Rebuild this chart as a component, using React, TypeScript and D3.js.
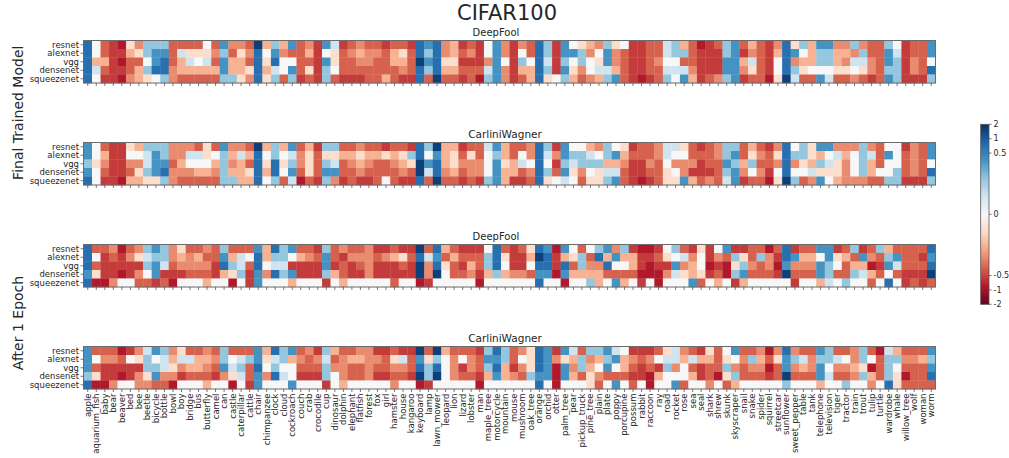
import React from "react";
import * as d3 from "d3";

const classes = [
  "apple","aquarium_fish","baby","bear","beaver","bed","bee","beetle","bicycle","bottle",
  "bowl","boy","bridge","bus","butterfly","camel","can","castle","caterpillar","cattle",
  "chair","chimpanzee","clock","cloud","cockroach","couch","crab","crocodile","cup","dinosaur",
  "dolphin","elephant","flatfish","forest","fox","girl","hamster","house","kangaroo","keyboard",
  "lamp","lawn_mower","leopard","lion","lizard","lobster","man","maple_tree","motorcycle","mountain",
  "mouse","mushroom","oak_tree","orange","orchid","otter","palm_tree","pear","pickup_truck","pine_tree",
  "plain","plate","poppy","porcupine","possum","rabbit","raccoon","ray","road","rocket",
  "rose","sea","seal","shark","shrew","skunk","skyscraper","snail","snake","spider",
  "squirrel","streetcar","sunflower","sweet_pepper","table","tank","telephone","television","tiger","tractor",
  "train","trout","tulip","turtle","wardrobe","whale","willow_tree","wolf","woman","worm",
];
const models = ["resnet", "alexnet", "vgg", "densenet", "squeezenet"];
const colorbarTicks = [2, 1, 0.5, 0, -0.5, -1, -2];

const levelCodes = ["1","2","3","4","5","6","7","8","9","A","B","C"];
const levelValues = [-0.84, -0.55, -0.44, -0.35, -0.26, -0.13, 0, 0.15, 0.29, 0.44, 0.71, 1.54];

// One group per class (column); the 5 characters are resnet, alexnet, vgg, densenet, squeezenet.
const deepFoolFinal =
  "BBBBB 77587 33532 22222 12121 65334 46355 99796 9AAB7 9ABB9 " +
  "33344 38553 36853 36753 76853 34353 A9AA9 43559 46556 34364 " +
  "CBBBB 57656 9AB89 54773 A37A9 33332 45363 22222 A7A99 86673 " +
  "23332 34332 45432 34433 34333 23335 35533 36542 23332 BBCBB " +
  "A9A93 BBBBC 44653 55653 23232 34233 22231 77489 AAAAA 44744 " +
  "22222 47953 33755 BBBBB 99896 22227 AA9A9 7A765 69943 54774 " +
  "47685 9AA89 6445A 73333 22222 22221 33332 33433 88789 99787 " +
  "5938A 33345 12222 22223 32224 99AA9 AAAAA 32542 54863 33333 " +
  "22221 45776 BBBBC 6A498 97563 55573 A997A A9978 45563 45463 " +
  "94874 49863 33442 33333 9AA9A 78999 22222 33442 33332 AA7B9";

const cwFinal =
  "AA9AB 77677 35432 22222 22221 67435 57465 98896 9AAA6 99AB9 " +
  "44344 44543 48743 38753 66753 37543 A9999 45459 48555 35365 " +
  "CBBBB 57657 99BB9 57673 A89A8 34431 56663 23332 969A9 968A4 " +
  "35332 35433 46542 35432 35333 26337 35433 36542 29632 BBCCB " +
  "97A83 CABBC 55543 56653 23432 36443 33442 87779 A9AAA 55655 " +
  "33552 37832 44743 BBBBB 98796 24237 AA9A8 79867 79943 58976 " +
  "47966 99589 7A58A 65433 23222 33221 33432 44333 88766 87476 " +
  "6744A 33425 23223 33324 44333 99A98 9A9AA 33542 56973 34343 " +
  "23321 46476 BBBBC 79479 99673 66584 A596A A7867 48665 45444 " +
  "47774 99994 48553 33373 7A779 77799 23332 44442 33332 AA7B9";

const deepFoolEpoch1 =
  "BBBAB 37361 32221 43224 12217 34227 46243 98973 A9AA2 99823 " +
  "44321 65427 34437 35437 43435 33227 9AB57 35961 38897 37322 " +
  "ABBAA 55747 B98B7 99897 A72A5 35227 34227 23227 9AA92 33257 " +
  "42335 34227 34327 44447 23227 24227 35223 26327 23227 CBCC1 " +
  "38442 BABC7 53677 35337 23237 23547 23321 79957 BBB97 36757 " +
  "22247 32247 65737 BCBAB ABBA7 12217 A5BA1 76357 39957 73459 " +
  "9B455 A5B37 4A73A 95735 25537 12212 12117 23211 76247 97A87 " +
  "38467 2455A 67763 22127 74235 A3117 29692 269A5 33437 39337 " +
  "14437 32127 BBAC7 2A432 35437 35437 A7AA5 AA998 26737 35339 " +
  "93597 2A587 34153 93237 59A7B 3A837 33322 33323 32322 BABC3";

const cwEpoch1 =
  "AAA9B 37361 34221 34224 13217 27227 46244 89964 A79A3 98843 " +
  "45641 68427 38537 35537 45435 34327 99A47 37861 38987 39332 " +
  "AABAA 56747 B89B7 99787 A577A 34327 43327 24327 98992 53477 " +
  "34445 35337 45337 44447 24327 23327 36434 28437 23327 CABC1 " +
  "36992 C9BC7 57777 34447 37237 34437 23321 9A957 BABA7 99557 " +
  "33247 47437 66697 BBBAB AAAA7 24111 A6AA7 85457 39937 94566 " +
  "95743 A9A37 8A73A 75537 24323 23227 24311 37257 68977 8847A " +
  "45773 38357 25227 65334 33317 76963 A7495 34337 39437 45437 " +
  "13127 46337 BAAC9 49437 38537 34437 A9AA5 99787 38437 37439 " +
  "44547 99697 37154 13337 8999B 59766 34313 34333 35333 A9AB3";

const panelTitles = ["DeepFool", "CarliniWagner", "DeepFool", "CarliniWagner"];
const panelCodes = [deepFoolFinal, cwFinal, deepFoolEpoch1, cwEpoch1];
const groupLabels = ["Final Trained Model", "After 1 Epoch"];

const RdBu = ["#67001f","#b2182b","#d6604d","#f4a582","#fddbc7","#f7f7f7","#d1e5f0","#92c5de","#4393c3","#2166ac","#053061"];

// symmetric log norm (linear within +-0.5)
const LINTHRESH = 0.5, LINSCALE = 1.28, VMAX = 2;
function symlog(v: number) {
  const a = Math.abs(v);
  const s = a <= LINTHRESH ? (a / LINTHRESH) * LINSCALE : LINSCALE + Math.log10(a / LINTHRESH);
  return Math.sign(v) * s;
}
const norm = d3.scaleLinear().domain([symlog(-VMAX), symlog(VMAX)]).range([0, 1]).clamp(true);
const cmap = d3.scaleLinear<string>().domain(d3.range(11).map((i) => i / 10)).range(RdBu).interpolate(d3.interpolateRgb);
const colorOf = (v: number) => cmap(norm(symlog(v)));

function parse(s: string) {
  return s.trim().split(/\s+/).map((g) => g.split("").map((ch) => levelValues[levelCodes.indexOf(ch)]));
}

const FONT = "DejaVu Sans, sans-serif";
const TXT = "#262626";

const X0 = 83.5, X1 = 935.5;
const panelTops = [40.5, 142.5, 244.5, 346.5];
const PH = 42.5;

export default function App() {
  const x = d3.scaleBand<string>().domain(classes).range([X0, X1]);
  const cbTop = 124.3, cbBot = 304.3, cbX = 980.7, cbW = 8.3;
  const cbY = d3.scaleLinear().domain([0, 1]).range([cbBot, cbTop]);
  const lastBottom = panelTops[3] + PH;
  const g1 = (panelTops[0] + panelTops[1] + PH) / 2;
  const g2 = 323;

  return (
    <svg width={1009} height={458} style={{ position: "absolute", left: 0, top: 0, background: "#fff" }} fontFamily={FONT}>
      <defs>
        <linearGradient id="cbgrad" x1="0" y1="1" x2="0" y2="0">
          {RdBu.map((c, i) => (
            <stop key={i} offset={i / 10} stopColor={c} />
          ))}
        </linearGradient>
      </defs>
      <text x={507} y={19.5} fontSize={21} textAnchor="middle" fill={TXT}>CIFAR100</text>

      {panelCodes.map((codes, p) => {
        const data = parse(codes);
        const top = panelTops[p];
        const y = d3.scaleBand<string>().domain(models).range([top, top + PH]);
        const isDF = panelTitles[p] === "DeepFool";
        return (
          <g key={p}>
            <text x={isDF ? 496 : 505} y={top - 4.5} fontSize={isDF ? 10 : 10.5} textAnchor="middle" fill={TXT}>{panelTitles[p]}</text>
            {classes.map((c, ci) =>
              models.map((m, mi) => (
                <rect key={c + m} x={x(c)!} y={y(m)!} width={x.bandwidth() + 0.3} height={y.bandwidth() + 0.3}
                  fill={colorOf(data[ci] ? data[ci][mi] : 0)} />
              ))
            )}
            <rect x={X0} y={top} width={X1 - X0} height={PH} fill="none" stroke="#6b6b6b" strokeWidth={1} />
            {models.map((m) => (
              <g key={m}>
                <line x1={X0 - 3} x2={X0} y1={y(m)! + y.bandwidth() / 2} y2={y(m)! + y.bandwidth() / 2} stroke="#555" strokeWidth={0.8} />
                <text x={X0 - 4.5} y={y(m)! + y.bandwidth() / 2} dy="0.35em" fontSize={8.5} textAnchor="end" fill={TXT}>{m}</text>
              </g>
            ))}
            {classes.map((c) => (
              <line key={c} x1={x(c)! + x.bandwidth() / 2} x2={x(c)! + x.bandwidth() / 2} y1={top + PH} y2={top + PH + 3} stroke="#555" strokeWidth={0.8} />
            ))}
          </g>
        );
      })}

      {classes.map((c) => {
        const cx = x(c)! + x.bandwidth() / 2;
        const ty = lastBottom + 4.5;
        return (
          <text key={c} x={cx} y={ty} dy="0.35em" fontSize={8.5} textAnchor="end" fill={TXT}
            transform={`rotate(-90, ${cx}, ${ty})`}>{c}</text>
        );
      })}

      <text x={23} y={g1} fontSize={14} textAnchor="middle" fill={TXT}
        transform={`rotate(-90, 23, ${g1})`}>{groupLabels[0]}</text>
      <text x={23} y={g2} fontSize={14} textAnchor="middle" fill={TXT}
        transform={`rotate(-90, 23, ${g2})`}>{groupLabels[1]}</text>

      <rect x={cbX} y={cbTop} width={cbW} height={cbBot - cbTop} fill="url(#cbgrad)" stroke="#555" strokeWidth={0.8} />
      {colorbarTicks.map((t) => {
        const yy = cbY(norm(symlog(t)));
        return (
          <g key={t}>
            <line x1={cbX + cbW} x2={cbX + cbW + 2.5} y1={yy} y2={yy} stroke="#555" strokeWidth={0.8} />
            <text x={cbX + cbW + 4.5} y={yy} dy="0.35em" fontSize={8} fill={TXT}>{String(t)}</text>
          </g>
        );
      })}
    </svg>
  );
}
